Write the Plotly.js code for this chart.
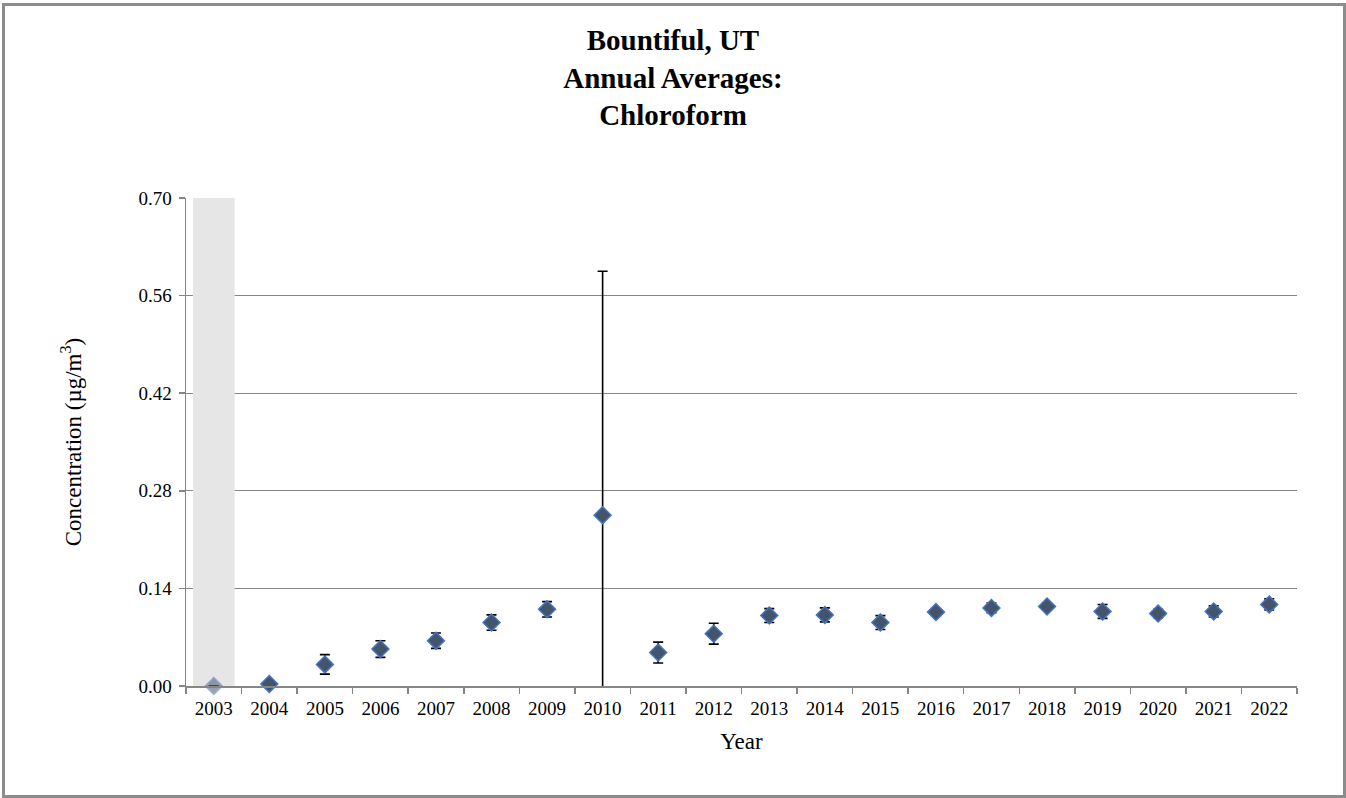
<!DOCTYPE html>
<html>
<head>
<meta charset="utf-8">
<script src="https://cdn.plot.ly/plotly-3.0.1.min.js"></script>
<style>
  html, body { margin: 0; padding: 0; background: #fff; }
  #wrap { position: relative; width: 1346px; height: 798px; }
  #chart { width: 1346px; height: 798px; }
  #frame { position: absolute; left: 2px; top: 3px; right: 0; bottom: 0; border: 3px solid #8c8c8c; pointer-events: none; }
</style>
</head>
<body>
<div id="wrap"><div id="chart"></div><div id="frame"></div></div>
<script>
const years = ["2003","2004","2005","2006","2007","2008","2009","2010","2011","2012","2013","2014","2015","2016","2017","2018","2019","2020","2021","2022"];
const averages = [0.000,0.003,0.031,0.053,0.065,0.091,0.110,0.245,0.048,0.075,0.101,0.102,0.091,0.106,0.112,0.114,0.107,0.104,0.107,0.117];
const errors   = [0.000,0.000,0.014,0.012,0.011,0.011,0.011,0.350,0.015,0.015,0.010,0.010,0.010,0.005,0.007,0.005,0.010,0.006,0.008,0.008];
const shadedYears = ["2003"];
const shadedTop = [0.70];
const yTicks = [0, 0.14, 0.28, 0.42, 0.56, 0.70];

const serif = "Liberation Serif";

const band = {
  type: "bar", x: shadedYears, y: shadedTop, width: 0.75,
  marker: { color: "#e6e6e6", line: { width: 0 } },
  hoverinfo: "skip", showlegend: false
};

const pts = {
  type: "scatter", mode: "markers", x: years, y: averages,
  error_y: { type: "data", array: errors, visible: true, color: "#000", thickness: 1.6, width: 5 },
  marker: {
    symbol: "diamond", size: 13, color: "#44546a",
    opacity: years.map(y => shadedYears.includes(y) ? 0.55 : 1),
    line: { color: "#4472c4", width: 1.5 }
  },
  cliponaxis: false, showlegend: false
};

const layout = {
  width: 1346, height: 798,
  margin: { l: 186, r: 49, t: 198, b: 112 },
  paper_bgcolor: "#fff", plot_bgcolor: "#fff",
  font: { family: serif, color: "#000", size: 19 },
  title: {
    text: "<b>Bountiful, UT<br>Annual Averages:<br>Chloroform</b>",
    font: { family: serif, size: 29, color: "#000" },
    x: 0.5, xanchor: "center", xref: "container",
    y: 1 - 50/798, yanchor: "top", yref: "container"
  },
  xaxis: {
    type: "category", range: [-0.5, 19.5],
    tickson: "boundaries", ticks: "outside", ticklen: 6, tickcolor: "#868686", tickwidth: 1.5,
    showline: true, linecolor: "#868686", linewidth: 1.5,
    showgrid: false, zeroline: false, ticklabelstandoff: 5,
    tickfont: { family: serif, size: 19, color: "#000" },
    title: { text: "Year", font: { family: serif, size: 23, color: "#000" }, standoff: 14 }
  },
  yaxis: {
    range: [0, 0.70], tickvals: yTicks, tickformat: ".2f",
    ticks: "outside", ticklen: 6, tickcolor: "#868686", tickwidth: 1.5,
    showline: true, linecolor: "#868686", linewidth: 1.5,
    showgrid: true, gridcolor: "#868686", gridwidth: 1.2, zeroline: false, ticklabelstandoff: 3,
    tickfont: { family: serif, size: 19, color: "#000" },
    title: { text: "Concentration (µg/m<sup>3</sup>)", font: { family: serif, size: 23, color: "#000" }, standoff: 50 }
  },
  bargap: 0.25,
  showlegend: false
};

Plotly.newPlot("chart", [band, pts], layout, { displayModeBar: false, staticPlot: true });
</script>
</body>
</html>
